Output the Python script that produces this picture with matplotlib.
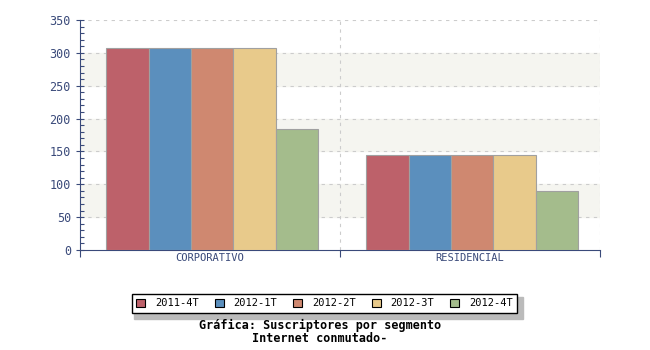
import numpy as np
import matplotlib.pyplot as plt
from matplotlib.patches import Rectangle

categories = ['CORPORATIVO', 'RESIDENCIAL']
series = ['2011-4T', '2012-1T', '2012-2T', '2012-3T', '2012-4T']
values = [
    [307, 145],
    [307, 145],
    [307, 145],
    [307, 145],
    [184, 90],
]
colors = ['#BD616A', '#5B8FBD', '#CF8870', '#E8CA8B', '#A4BC8C']

axis_col = '#3A4A7A'
plt.rcParams['font.family'] = ['DejaVu Sans Mono']

fig = plt.figure(figsize=(6.5, 3.5), dpi=100)
ax = fig.add_axes([80 / 650, 1 - 250 / 350, 520 / 650, 230 / 350])

# bandas alternas de fondo
for y0 in [50, 150, 250]:
    ax.axhspan(y0, y0 + 50, color='#F5F5F0', zorder=0)

x = np.arange(len(categories))
group_w = 0.815
w = group_w / len(series)
for i, (s, v) in enumerate(zip(series, values)):
    pos = x + 0.008 - group_w / 2 + w * (i + 0.5)
    ax.bar(pos, v, width=w, color=colors[i], edgecolor='#A0A0A0', linewidth=0.8,
           label=s, zorder=3)

ax.set_xlim(-0.5, len(categories) - 0.5)
ax.set_ylim(0, 350)
ax.set_yticks(np.arange(0, 351, 50))
ax.set_yticks(np.arange(0, 351, 10), minor=True)
ax.tick_params(axis='y', which='major', direction='inout', length=6, colors=axis_col,
               labelsize=8.5, width=0.8)
ax.tick_params(axis='y', which='minor', direction='in', length=3, colors=axis_col, width=0.8)

ax.set_xticks(x)
ax.set_xticklabels(categories)
ax.tick_params(axis='x', which='major', length=0, colors=axis_col, labelsize=7.5, pad=2)
ax.set_xticks([-0.5, 0.5, 1.5], minor=True)
ax.tick_params(axis='x', which='minor', direction='out', length=5, colors=axis_col, width=0.8)

for ysp in range(50, 351, 50):
    ax.axhline(ysp, color='#CCCCCC', linestyle=(0, (3, 4)), linewidth=0.8, zorder=1)
for xv in [0.5, 1.5]:
    ax.axvline(xv, color='#CCCCCC', linestyle=(0, (3, 4)), linewidth=0.8, zorder=1)

for side in ['top', 'right']:
    ax.spines[side].set_visible(False)
ax.spines['left'].set_color(axis_col)
ax.spines['bottom'].set_color(axis_col)

# sombra de la leyenda
fig.patches.append(Rectangle((134 / 650, 1 - 319 / 350), 389 / 650, 22 / 350,
                             transform=fig.transFigure, color='#BBBBBB', zorder=0))
leg = fig.legend(loc='center', bbox_to_anchor=(324.5 / 650, 1 - 303.5 / 350), ncol=5,
                 fontsize=7.5, frameon=True, fancybox=False, handlelength=0.87,
                 handleheight=0.87, columnspacing=1.5, handletextpad=0.96,
                 borderpad=0.45)
leg.get_frame().set_edgecolor('black')
leg.get_frame().set_linewidth(1)
leg.get_frame().set_alpha(1)
for h in leg.legend_handles:
    h.set_edgecolor('black')
    h.set_linewidth(0.8)

fig.text(320 / 650, 1 - 325 / 350, 'Gráfica: Suscriptores por segmento',
         ha='center', va='center', fontsize=8.5, fontweight='bold')
fig.text(320 / 650, 1 - 339 / 350, 'Internet conmutado-',
         ha='center', va='center', fontsize=8.5, fontweight='bold')

fig.savefig('out.png', dpi=100)
